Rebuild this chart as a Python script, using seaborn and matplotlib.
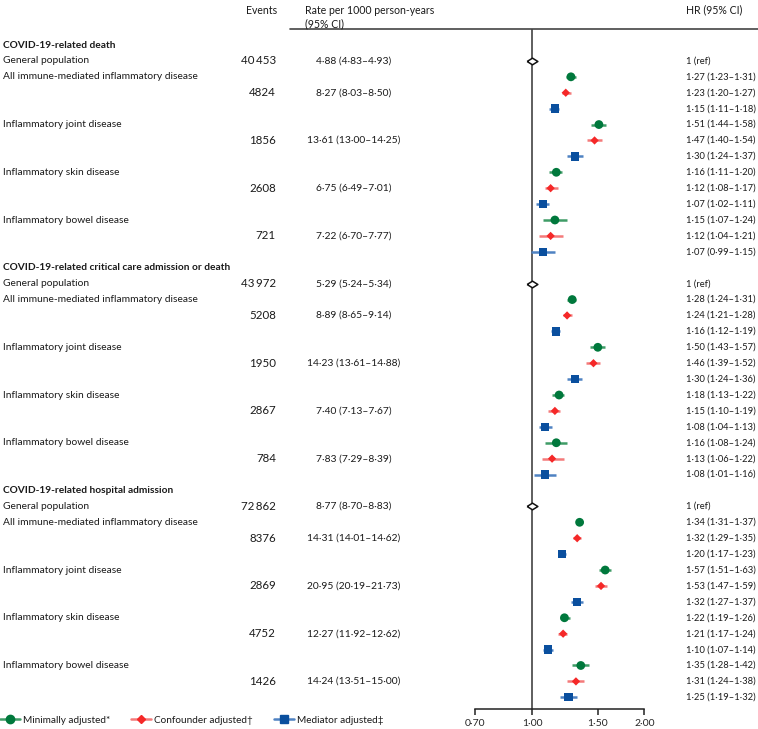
import numpy as np
import pandas as pd
import matplotlib
matplotlib.use("Agg")
import matplotlib.pyplot as plt
import seaborn as sns
from matplotlib.transforms import blended_transform_factory
from matplotlib.lines import Line2D

# ---------------- data ----------------
sections = ["COVID-19-related death",
            "COVID-19-related critical care admission or death",
            "COVID-19-related hospital admission"]
groups = ["General population",
          "All immune-mediated inflammatory disease",
          "Inflammatory joint disease",
          "Inflammatory skin disease",
          "Inflammatory bowel disease"]
models = ["Minimally adjusted*", "Confounder adjusted\u2020", "Mediator adjusted\u2021"]

events = [[40453, 4824, 1856, 2608, 721],
          [43972, 5208, 1950, 2867, 784],
          [72862, 8376, 2869, 4752, 1426]]
rate = [[4.88, 8.27, 13.61, 6.75, 7.22],
        [5.29, 8.89, 14.23, 7.40, 7.83],
        [8.77, 14.31, 20.95, 12.27, 14.24]]
rate_lo = [[4.83, 8.03, 13.00, 6.49, 6.70],
           [5.24, 8.65, 13.61, 7.13, 7.29],
           [8.70, 14.01, 20.19, 11.92, 13.51]]
rate_hi = [[4.93, 8.50, 14.25, 7.01, 7.77],
           [5.34, 9.14, 14.88, 7.67, 8.39],
           [8.83, 14.62, 21.73, 12.62, 15.00]]

# HR by section x disease group (IMID, joint, skin, bowel)
min_hr = [[1.27, 1.51, 1.16, 1.15], [1.28, 1.50, 1.18, 1.16], [1.34, 1.57, 1.22, 1.35]]
min_lo = [[1.23, 1.44, 1.11, 1.07], [1.24, 1.43, 1.13, 1.08], [1.31, 1.51, 1.19, 1.28]]
min_hi = [[1.31, 1.58, 1.20, 1.24], [1.31, 1.57, 1.22, 1.24], [1.37, 1.63, 1.26, 1.42]]
conf_hr = [[1.23, 1.47, 1.12, 1.12], [1.24, 1.46, 1.15, 1.13], [1.32, 1.53, 1.21, 1.31]]
conf_lo = [[1.20, 1.40, 1.08, 1.04], [1.21, 1.39, 1.10, 1.06], [1.29, 1.47, 1.17, 1.24]]
conf_hi = [[1.27, 1.54, 1.17, 1.21], [1.28, 1.52, 1.19, 1.22], [1.35, 1.59, 1.24, 1.38]]
med_hr = [[1.15, 1.30, 1.07, 1.07], [1.16, 1.30, 1.08, 1.08], [1.20, 1.32, 1.10, 1.25]]
med_lo = [[1.11, 1.24, 1.02, 0.99], [1.12, 1.24, 1.04, 1.01], [1.17, 1.27, 1.07, 1.19]]
med_hi = [[1.18, 1.37, 1.11, 1.15], [1.19, 1.36, 1.13, 1.16], [1.23, 1.37, 1.14, 1.32]]

tick_vals = [0.70, 1.00, 1.50, 2.00]

# ---------------- styling ----------------
colors = {models[0]: "#00783C", models[1]: "#F52828", models[2]: "#0A4F9E"}
ci_colors = {models[0]: "#3F9C66", models[1]: "#F47A7A", models[2]: "#4F82C2"}
markers = {models[0]: "o", models[1]: "D", models[2]: "s"}
sizes = {models[0]: 40, models[1]: 18, models[2]: 36}

sns.set_style("white")
plt.rcParams["font.family"] = ["Lato", "DejaVu Sans"]
plt.rcParams["text.color"] = "#1a1a1a"

def fmt(v):
    return f"{v:.2f}".replace(".", "\u00b7")

def fmt_ci(v, lo, hi):
    return f"{fmt(v)} ({fmt(lo)}\u2013{fmt(hi)})"

def fmt_n(n):
    return f"{n:,}".replace(",", "\u2009") if n >= 10000 else str(n)

hr_sets = [(min_hr, min_lo, min_hi), (conf_hr, conf_lo, conf_hi), (med_hr, med_lo, med_hi)]

recs = []
for s in range(3):
    for g in range(4):
        for m in range(3):
            h, lo, hi = hr_sets[m]
            recs.append(dict(row=s * 14 + 2 + g * 3 + m, model=models[m],
                             hr=h[s][g], lo=lo[s][g], hi=hi[s][g]))
df = pd.DataFrame(recs)

W, H = 758, 729
fig = plt.figure(figsize=(W / 100, H / 100), dpi=100)
renderer = fig.canvas.get_renderer()

def fit_size(sample, target_px, weight="normal", base=8.0):
    t = fig.text(0, 0, sample, fontsize=base, fontweight=weight)
    w = t.get_window_extent(renderer=renderer).width
    t.remove()
    return base * target_px / w

fs_head = fit_size(sections[1], 226, "bold")
fs_lab = fit_size(groups[1], 195)
fs_ev = fit_size(fmt_n(40453), 35)
fs_rate = fit_size(fmt_ci(4.88, 4.83, 4.93), 76)
fs_hr = fit_size(fmt_ci(1.27, 1.23, 1.31), 69)
fs_top = fit_size("Rate per 1000 person-years", 130)
fs_leg = fit_size(models[0], 88)
fs_tick = fit_size(fmt(1.0), 21)

x0, x1 = 474.7, 644.3
y_top, y_bot = 29, 709
ax = fig.add_axes([x0 / W, 1 - y_bot / H, (x1 - x0) / W, (y_bot - y_top) / H])

row0, step = 45.0, 15.91
ax.set_ylim((y_bot - row0) / step, (y_top - row0) / step)
ax.set_xscale("log")
ax.set_xlim(tick_vals[0], tick_vals[-1])

# reference line
ax.axvline(1.0, color="#333333", lw=1.1, zorder=1)

# CIs
for m in models:
    d = df[df.model == m]
    ax.hlines(d.row, d.lo, d.hi, colors=ci_colors[m], lw=1.8, zorder=2)

sns.scatterplot(data=df, x="hr", y="row", hue="model", style="model", size="model",
                palette=colors, markers=markers, sizes=sizes, linewidth=0,
                legend=False, ax=ax, zorder=3)

# reference diamonds
ref_rows = [s * 14 + 1 for s in range(3)]
diamond = [(-1, 0), (0, 0.62), (1, 0), (0, -0.62), (-1, 0)]
ax.scatter([1.0] * 3, ref_rows, marker=diamond, s=60, facecolor="white",
           edgecolor="#111111", linewidth=1.1, zorder=4)

ax.set_xticks(tick_vals)
ax.set_xticklabels([fmt(t) for t in tick_vals])
ax.xaxis.set_minor_locator(matplotlib.ticker.NullLocator())
ax.tick_params(axis="x", direction="out", length=4, width=1.1, color="#222222",
               labelsize=fs_tick, pad=3, bottom=True)
ax.set_yticks([])
ax.set_xlabel("")
ax.set_ylabel("")
for sp in ["left", "top", "right"]:
    ax.spines[sp].set_visible(False)
ax.spines["bottom"].set_color("#222222")
ax.spines["bottom"].set_linewidth(1.1)
ax.patch.set_alpha(0)

# ---------------- table text ----------------
tr = blended_transform_factory(fig.transFigure, ax.transData)
xl, xev, xrate, xhr = 3 / W, 276 / W, 354 / W, 686 / W
for s in range(3):
    base = s * 14
    ax.text(xl, base, sections[s], transform=tr, fontsize=fs_head, fontweight="bold",
            ha="left", va="center", clip_on=False)
    ax.text(xl, base + 1, groups[0], transform=tr, fontsize=fs_lab, ha="left", va="center")
    ax.text(xev, base + 1, fmt_n(events[s][0]), transform=tr, fontsize=fs_ev, ha="right", va="center")
    ax.text(xrate, base + 1, fmt_ci(rate[s][0], rate_lo[s][0], rate_hi[s][0]), transform=tr,
            fontsize=fs_rate, ha="center", va="center")
    ax.text(xhr, base + 1, "1 (ref)", transform=tr, fontsize=fs_hr, ha="left", va="center")
    for g in range(4):
        r = base + 2 + g * 3
        ax.text(xl, r, groups[g + 1], transform=tr, fontsize=fs_lab, ha="left", va="center")
        ax.text(xev, r + 1, fmt_n(events[s][g + 1]), transform=tr, fontsize=fs_ev, ha="right", va="center")
        ax.text(xrate, r + 1, fmt_ci(rate[s][g + 1], rate_lo[s][g + 1], rate_hi[s][g + 1]),
                transform=tr, fontsize=fs_rate, ha="center", va="center")
        for m in range(3):
            h, lo, hi = hr_sets[m]
            ax.text(xhr, r + m, fmt_ci(h[s][g], lo[s][g], hi[s][g]), transform=tr,
                    fontsize=fs_hr, ha="left", va="center")

# headers
fig.text(277 / W, 1 - 10 / H, "Events", fontsize=fs_top, ha="right", va="center")
fig.text(305 / W, 1 - 10 / H, "Rate per 1000 person-years", fontsize=fs_top, ha="left", va="center")
fig.text(305 / W, 1 - 24 / H, "(95% CI)", fontsize=fs_top, ha="left", va="center")
fig.text(686 / W, 1 - 10 / H, "HR (95% CI)", fontsize=fs_top, ha="left", va="center")
fig.add_artist(Line2D([290 / W, 1.0], [1 - y_top / H] * 2, transform=fig.transFigure,
                      color="#444444", lw=1.2))

# legend
handles = [Line2D([], [], color=ci_colors[m], lw=1.8, marker=markers[m],
                  markerfacecolor=colors[m], markeredgecolor=colors[m],
                  markersize=6 if m != models[1] else 4.5) for m in models]
fig.legend(handles, models, loc="center left", bbox_to_anchor=(0, 1 - 720 / H), ncol=3,
           frameon=False, fontsize=fs_leg, handlelength=2.0, handletextpad=0.3,
           columnspacing=2.1, borderaxespad=0, borderpad=0)

fig.savefig("out.png", dpi=100)
